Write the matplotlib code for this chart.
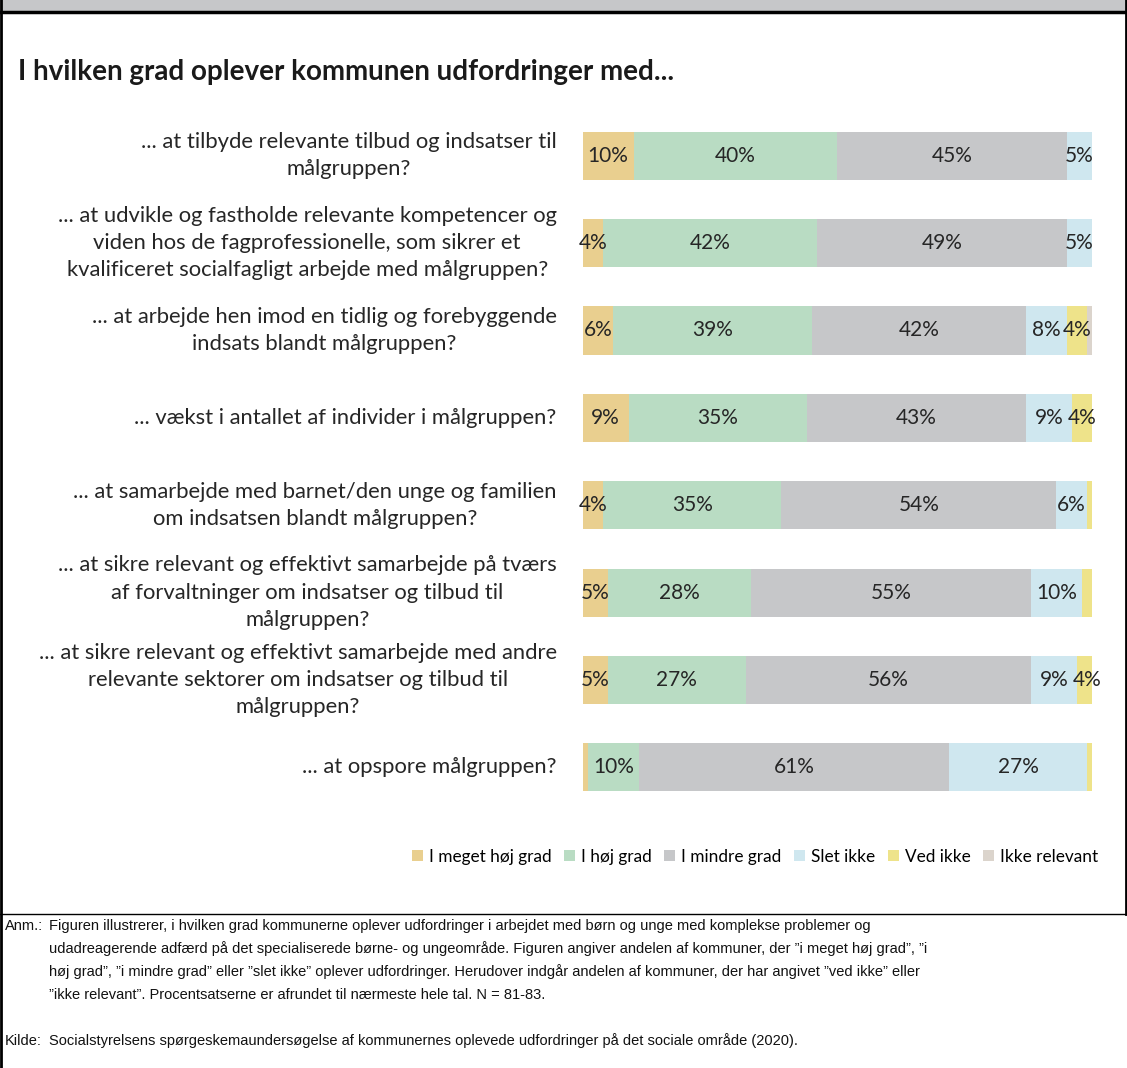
import numpy as np
import matplotlib.pyplot as plt
from matplotlib.patches import Patch
from matplotlib.lines import Line2D
from matplotlib.patches import Rectangle

questions = [
    "... at tilbyde relevante tilbud og indsatser til\nmålgruppen?",
    "... at udvikle og fastholde relevante kompetencer og\nviden hos de fagprofessionelle, som sikrer et\nkvalificeret socialfagligt arbejde med målgruppen?",
    "... at arbejde hen imod en tidlig og forebyggende\nindsats blandt målgruppen?",
    "... vækst i antallet af individer i målgruppen?",
    "... at samarbejde med barnet/den unge og familien\nom indsatsen blandt målgruppen?",
    "... at sikre relevant og effektivt samarbejde på tværs\naf forvaltninger om indsatser og tilbud til\nmålgruppen?",
    "... at sikre relevant og effektivt samarbejde med andre\nrelevante sektorer om indsatser og tilbud til\nmålgruppen?",
    "... at opspore målgruppen?",
]

categories = ["I meget høj grad", "I høj grad", "I mindre grad", "Slet ikke", "Ved ikke", "Ikke relevant"]

meget_hoej = [10, 4, 6, 9, 4, 5, 5, 1]
hoej = [40, 42, 39, 35, 35, 28, 27, 10]
mindre = [45, 49, 42, 43, 54, 55, 56, 61]
slet_ikke = [5, 5, 8, 9, 6, 10, 9, 27]
ved_ikke = [0, 0, 4, 4, 1, 2, 4, 1]
ikke_relevant = [1, 0, 1, 1, 0, 0, 0, 0]

colors = ["#e9cf8f", "#b9dcc3", "#c6c7c9", "#cfe7ef", "#eee38a", "#dbd4cc"]

series = [meget_hoej, hoej, mindre, slet_ikke, ved_ikke, ikke_relevant]

plt.rcParams["font.family"] = ["Lato", "DejaVu Sans"]

fig = plt.figure(figsize=(11.27, 10.68), dpi=100)
ax = fig.add_axes([0.517, 0.2406, 0.452, 0.6545])

y = np.arange(len(questions))
left = np.zeros(len(questions))
for vals, col in zip(series, colors):
    vals = np.array(vals, dtype=float)
    ax.barh(y, vals, left=left, height=0.55, color=col, edgecolor="none")
    for yi, (l, v) in enumerate(zip(left, vals)):
        if v >= 4:
            ax.text(l + v / 2, yi, f"{int(v)}%", ha="center", va="center",
                    fontsize=15, color="#262626")
    left += vals

ax.set_xlim(0, 100)
ax.set_ylim(len(questions) - 0.5, -0.5)
ax.axis("off")

for yi, q in enumerate(questions):
    ax.text(-5.1, yi, q, ha="right", va="center", multialignment="center",
            fontsize=15.8, color="#262626", linespacing=1.45)

# title
fig.text(0.016, 0.933, "I hvilken grad oplever kommunen udfordringer med...",
         fontsize=20, fontweight="bold", color="#1a1a1a", va="center")

# legend
handles = [Patch(facecolor=c, edgecolor="none") for c in colors]
fig.legend(handles, categories, loc="center", bbox_to_anchor=(0.670, 0.198),
           ncol=6, frameon=False, fontsize=12.4, handlelength=0.65, handleheight=0.65,
           handletextpad=0.35, columnspacing=0.72)

# frame / separators
fig.add_artist(Rectangle((0, 0.990), 1, 0.010, transform=fig.transFigure,
                         facecolor="#c6c7c9", edgecolor="none"))
fig.add_artist(Line2D([0, 1], [0.989, 0.989], transform=fig.transFigure, color="black", lw=2.5))
fig.add_artist(Line2D([0, 1], [0.1445, 0.1445], transform=fig.transFigure, color="black", lw=1))
fig.add_artist(Line2D([0.001, 0.001], [0, 1], transform=fig.transFigure, color="black", lw=2))
fig.add_artist(Line2D([0.999, 0.999], [0.1445, 1], transform=fig.transFigure, color="black", lw=2))

note_font = ["Liberation Sans", "DejaVu Sans"]
note_lines = [
    "Figuren illustrerer, i hvilken grad kommunerne oplever udfordringer i arbejdet med børn og unge med komplekse problemer og",
    "udadreagerende adfærd på det specialiserede børne- og ungeområde. Figuren angiver andelen af kommuner, der \u201di meget høj grad\u201d, \u201di",
    "høj grad\u201d, \u201di mindre grad\u201d eller \u201dslet ikke\u201d oplever udfordringer. Herudover indgår andelen af kommuner, der har angivet \u201dved ikke\u201d eller",
    "\u201dikke relevant\u201d. Procentsatserne er afrundet til nærmeste hele tal. N = 81-83.",
]
fig.text(0.004, 0.129, "Anm.:", fontsize=10.5, family=note_font, va="baseline", color="#111111")
for i, line in enumerate(note_lines):
    fig.text(0.0435, 0.129 - i * 0.0215, line, fontsize=10.5, family=note_font,
             va="baseline", color="#111111")
fig.text(0.004, 0.0215, "Kilde:", fontsize=10.5, family=note_font, va="baseline", color="#111111")
fig.text(0.0435, 0.0215,
         "Socialstyrelsens spørgeskemaundersøgelse af kommunernes oplevede udfordringer på det sociale område (2020).",
         fontsize=10.5, family=note_font, va="baseline", color="#111111")

fig.savefig("out.png", dpi=100)
plt.close("all")
